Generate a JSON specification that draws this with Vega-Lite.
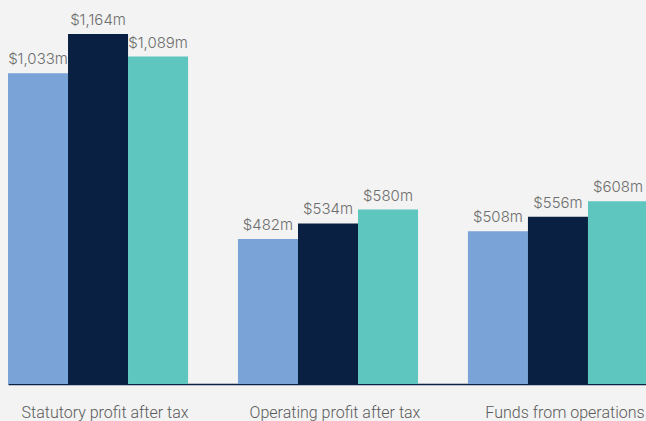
{
  "$schema": "https://vega.github.io/schema/vega-lite/v6.json",
  "width": 640,
  "height": 384,
  "autosize": {"type": "none"},
  "padding": {"left": 8, "top": 0, "right": 0, "bottom": 37},
  "background": "#f2f3f2",
  "config": {"view": {"stroke": null}, "font": "Inter"},
  "data": {
    "values": [
      {"metric": "Statutory profit after tax", "year": "FY22", "value": 1033, "label": "$1,033m"},
      {"metric": "Statutory profit after tax", "year": "FY23", "value": 1164, "label": "$1,164m"},
      {"metric": "Statutory profit after tax", "year": "FY24", "value": 1089, "label": "$1,089m"},
      {"metric": "Operating profit after tax", "year": "FY22", "value": 482, "label": "$482m"},
      {"metric": "Operating profit after tax", "year": "FY23", "value": 534, "label": "$534m"},
      {"metric": "Operating profit after tax", "year": "FY24", "value": 580, "label": "$580m"},
      {"metric": "Funds from operations", "year": "FY22", "value": 508, "label": "$508m"},
      {"metric": "Funds from operations", "year": "FY23", "value": 556, "label": "$556m"},
      {"metric": "Funds from operations", "year": "FY24", "value": 608, "label": "$608m"}
    ]
  },
  "encoding": {
    "x": {
      "field": "metric", "type": "nominal", "sort": null, "title": null,
      "scale": {"paddingInner": 0.217, "paddingOuter": 0},
      "axis": {
        "labelAngle": 0, "ticks": false, "domainColor": "#0b2045", "domainWidth": 1.5,
        "labelFontSize": 16, "labelColor": "#5a5a5a", "labelPadding": 20, "labelFont": "Roboto", "labelFontWeight": 300,
        "labelOffset": 7
      }
    },
    "xOffset": {"field": "year", "type": "nominal", "sort": null},
    "y": {
      "field": "value", "type": "quantitative",
      "scale": {"domain": [0, 1277], "nice": false},
      "axis": null
    }
  },
  "layer": [
    {
      "mark": {"type": "bar"},
      "encoding": {
        "color": {
          "field": "year", "type": "nominal", "sort": null, "legend": null,
          "scale": {"range": ["#7aa3d7", "#0a2042", "#5ec6be"]}
        }
      }
    },
    {
      "mark": {"type": "text", "baseline": "alphabetic", "dy": -9, "fontSize": 15, "color": "#6e6e6e", "font": "Inter", "fontWeight": 300},
      "encoding": {"text": {"field": "label"}}
    }
  ]
}
